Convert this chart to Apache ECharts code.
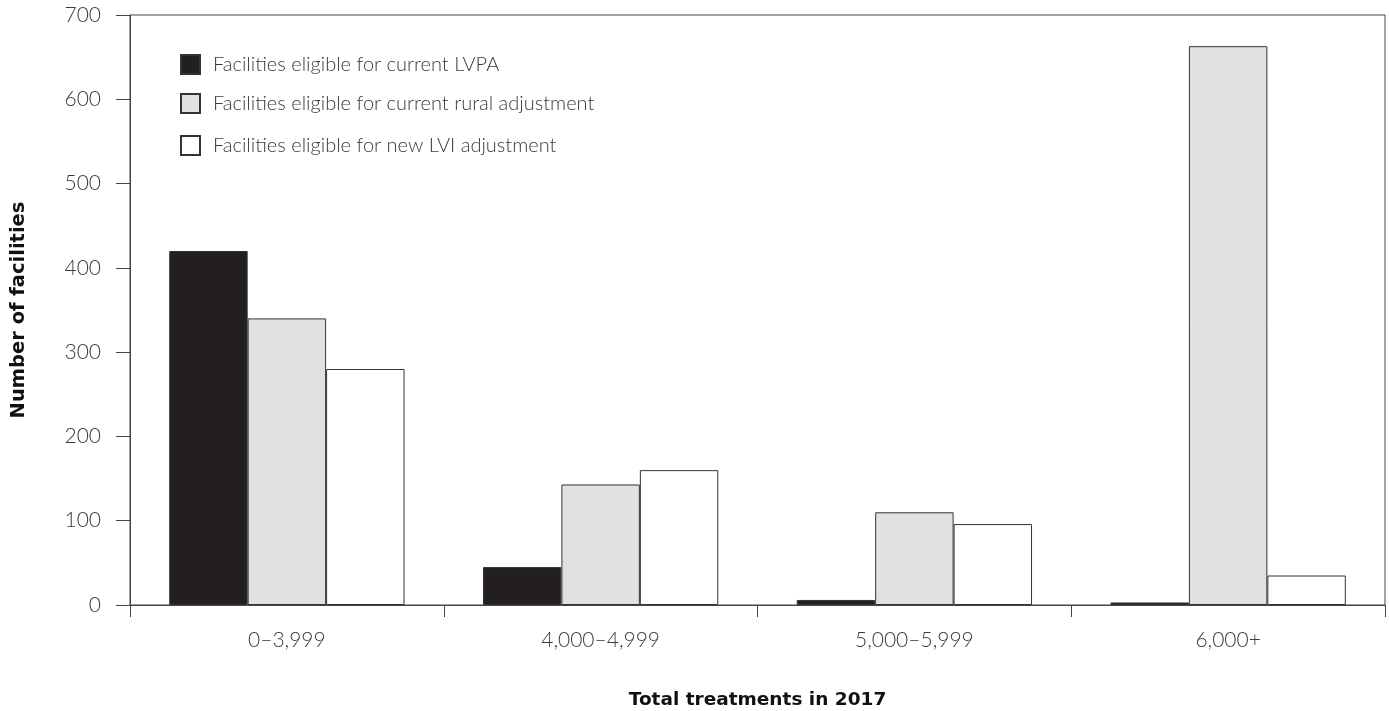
<!DOCTYPE html>
<html>
<head>
<meta charset="utf-8">
<script src="https://cdn.jsdelivr.net/npm/echarts@6/dist/echarts.min.js"></script>
<style>
    html, body { margin: 0; padding: 0; background: #fff; }
    #chart { width: 1389px; height: 711px; }
</style>
</head>
<body>
<div id="chart"></div>
<script>
const categories = ['0\u20133,999', '4,000\u20134,999', '5,000\u20135,999', '6,000+'];
const lvpaValues = [420, 45, 6, 3];
const ruralValues = [340, 143, 110, 663];
const lviValues = [280, 160, 96, 35];
const seriesNames = [
    'Facilities eligible for current LVPA',
    'Facilities eligible for current rural adjustment',
    'Facilities eligible for new LVI adjustment'
];
const yTicks = [0, 100, 200, 300, 400, 500, 600, 700];

const lineColor = '#444';
const textColor = '#3a3a3a';
const fontFamily = 'Lato, "Open Sans", sans-serif';
const titleFont = '"DejaVu Sans", sans-serif';

const chart = echarts.init(document.getElementById('chart'));

const makeLegend = (name, top) => ({
    data: [name],
    left: 180,
    top: top,
    padding: 0,
    icon: 'rect',
    itemWidth: 19,
    itemHeight: 19,
    itemGap: 14,
    selectedMode: false,
    textStyle: { color: textColor, fontSize: 20, fontFamily: fontFamily, fontWeight: 300, padding: [0, 0, 0, 8] }
});

const makeBar = (name, data, color) => ({
    name: name,
    type: 'bar',
    data: data,
    barGap: 0,
    barCategoryGap: '25%',
    itemStyle: { color: color, borderColor: '#333', borderWidth: 1 },
    emphasis: { disabled: true }
});

const option = {
    animation: false,
    backgroundColor: '#fff',
    grid: {
        left: 130,
        right: 4,
        top: 15,
        bottom: 106,
        outerBoundsMode: 'none',
        show: true,
        borderColor: lineColor,
        borderWidth: 1
    },
    legend: [
        makeLegend(seriesNames[0], 54),
        makeLegend(seriesNames[1], 93),
        makeLegend(seriesNames[2], 135)
    ],
    xAxis: {
        type: 'category',
        data: categories,
        name: 'Total treatments in 2017',
        nameLocation: 'middle',
        nameGap: 86,
        nameTextStyle: { color: '#111', fontSize: 18.5, fontWeight: 'bold', fontFamily: titleFont },
        axisLine: { lineStyle: { color: lineColor, width: 1 } },
        axisTick: { show: true, length: 12, lineStyle: { color: lineColor } },
        axisLabel: { color: textColor, fontSize: 21, fontFamily: fontFamily, fontWeight: 300, margin: 25 }
    },
    yAxis: {
        type: 'value',
        min: yTicks[0],
        max: yTicks[yTicks.length - 1],
        interval: 100,
        name: 'Number of facilities',
        nameLocation: 'middle',
        nameGap: 101,
        nameRotate: 90,
        nameTextStyle: { color: '#111', fontSize: 19.5, fontWeight: 'bold', fontFamily: titleFont },
        axisLine: { show: true, lineStyle: { color: lineColor, width: 1 } },
        axisTick: { show: true, length: 14, lineStyle: { color: lineColor } },
        axisLabel: { color: textColor, fontSize: 21, fontFamily: fontFamily, fontWeight: 300, margin: 29 },
        splitLine: { show: false }
    },
    series: [
        makeBar(seriesNames[0], lvpaValues, '#231f20'),
        makeBar(seriesNames[1], ruralValues, '#e0e1e3'),
        makeBar(seriesNames[2], lviValues, '#ffffff')
    ]
};

chart.setOption(option);
</script>
</body>
</html>
